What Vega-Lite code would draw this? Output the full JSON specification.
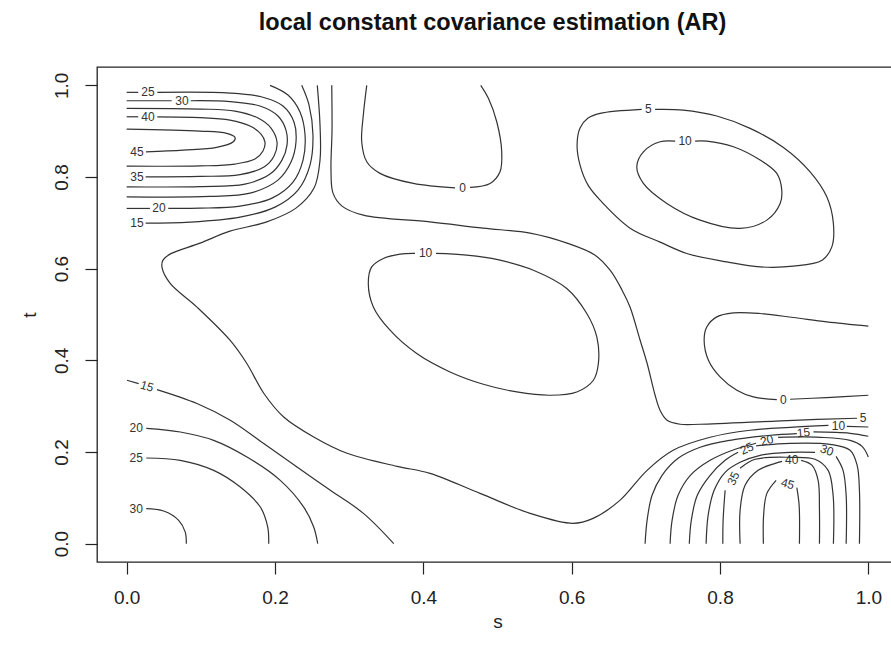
{
"$schema": "https://vega.github.io/schema/vega-lite/v6.json",
"width": 801, "height": 495,
"autosize": {"type": "none"},
"padding": {"left": 97, "top": 67, "right": 0, "bottom": 93},
"config": {"view": {"stroke": "#222", "strokeWidth": 1.3}, "font": "Liberation Sans"},
"title": {"text": "local constant covariance estimation (AR)", "fontSize": 23.5, "fontWeight": "bold", "color": "#111", "frame": "group", "anchor": "middle", "baseline": "alphabetic", "offset": 14, "dx": -5},
"datasets": {
"lines": [
{"g":"0a1","i":0,"s":0.3237,"t":1},{"g":"0a1","i":1,"s":0.3191,"t":0.9352},{"g":"0a1","i":2,"s":0.3169,"t":0.8769},{"g":"0a1","i":3,"s":0.3237,"t":0.8332},{"g":"0a1","i":4,"s":0.3416,"t":0.8079},{"g":"0a1","i":5,"s":0.3865,"t":0.7860},{"g":"0a1","i":6,"s":0.4428,"t":0.7764},
{"g":"0a2","i":0,"s":0.4630,"t":0.7773},{"g":"0a2","i":1,"s":0.4900,"t":0.7860},{"g":"0a2","i":2,"s":0.5034,"t":0.8114},{"g":"0a2","i":3,"s":0.5057,"t":0.8550},{"g":"0a2","i":4,"s":0.4990,"t":0.9205},{"g":"0a2","i":5,"s":0.4877,"t":0.9716},{"g":"0a2","i":6,"s":0.4774,"t":1},
{"g":"0b1","i":0,"s":1,"t":0.4745},{"g":"0b1","i":1,"s":0.9440,"t":0.4838},{"g":"0b1","i":2,"s":0.8990,"t":0.4934},{"g":"0b1","i":3,"s":0.8541,"t":0.5022},{"g":"0b1","i":4,"s":0.8181,"t":0.5035},{"g":"0b1","i":5,"s":0.7957,"t":0.4948},{"g":"0b1","i":6,"s":0.7822,"t":0.4729},{"g":"0b1","i":7,"s":0.7786,"t":0.4439},{"g":"0b1","i":8,"s":0.7844,"t":0.4002},{"g":"0b1","i":9,"s":0.8001,"t":0.3638},{"g":"0b1","i":10,"s":0.8227,"t":0.3347},{"g":"0b1","i":11,"s":0.8450,"t":0.3201},{"g":"0b1","i":12,"s":0.8766,"t":0.3144},
{"g":"0b2","i":0,"s":0.8945,"t":0.3151},{"g":"0b2","i":1,"s":0.9440,"t":0.3188},{"g":"0b2","i":2,"s":1,"t":0.3238},
{"g":"5L","i":0,"s":0.7125,"t":0.9476},{"g":"5L","i":1,"s":0.7506,"t":0.9461},{"g":"5L","i":2,"s":0.7957,"t":0.9330},{"g":"5L","i":3,"s":0.8406,"t":0.9061},{"g":"5L","i":4,"s":0.8855,"t":0.8646},{"g":"5L","i":5,"s":0.9215,"t":0.8114},{"g":"5L","i":6,"s":0.9440,"t":0.7568},{"g":"5L","i":7,"s":0.9529,"t":0.6987},{"g":"5L","i":8,"s":0.9508,"t":0.6476},{"g":"5L","i":9,"s":0.9377,"t":0.6186},{"g":"5L","i":10,"s":0.8990,"t":0.6055},{"g":"5L","i":11,"s":0.8541,"t":0.6039},{"g":"5L","i":12,"s":0.8092,"t":0.6148},{"g":"5L","i":13,"s":0.7552,"t":0.6332},{"g":"5L","i":14,"s":0.7192,"t":0.6579},{"g":"5L","i":15,"s":0.6788,"t":0.6884},{"g":"5L","i":16,"s":0.6383,"t":0.7496},{"g":"5L","i":17,"s":0.6221,"t":0.7823},{"g":"5L","i":18,"s":0.6113,"t":0.8260},{"g":"5L","i":19,"s":0.6073,"t":0.8697},{"g":"5L","i":20,"s":0.6113,"t":0.9068},{"g":"5L","i":21,"s":0.6221,"t":0.9286},{"g":"5L","i":22,"s":0.6383,"t":0.9389},{"g":"5L","i":23,"s":0.6945,"t":0.9476},
{"g":"10U","i":0,"s":0.7664,"t":0.8784},{"g":"10U","i":1,"s":0.7822,"t":0.8784},{"g":"10U","i":2,"s":0.8181,"t":0.8659},{"g":"10U","i":3,"s":0.8541,"t":0.8369},{"g":"10U","i":4,"s":0.8766,"t":0.8079},{"g":"10U","i":5,"s":0.8833,"t":0.7714},{"g":"10U","i":6,"s":0.8811,"t":0.7424},{"g":"10U","i":7,"s":0.8631,"t":0.7059},{"g":"10U","i":8,"s":0.8271,"t":0.6878},{"g":"10U","i":9,"s":0.7732,"t":0.7059},{"g":"10U","i":10,"s":0.7283,"t":0.7424},{"g":"10U","i":11,"s":0.6967,"t":0.7860},{"g":"10U","i":12,"s":0.6878,"t":0.8223},{"g":"10U","i":13,"s":0.6967,"t":0.8550},{"g":"10U","i":14,"s":0.7192,"t":0.8769},{"g":"10U","i":15,"s":0.7395,"t":0.8784},
{"g":"10M","i":0,"s":0.4171,"t":0.6332},{"g":"10M","i":1,"s":0.4585,"t":0.6295},{"g":"10M","i":2,"s":0.5034,"t":0.6186},{"g":"10M","i":3,"s":0.5484,"t":0.5967},{"g":"10M","i":4,"s":0.5934,"t":0.5568},{"g":"10M","i":5,"s":0.6204,"t":0.5022},{"g":"10M","i":6,"s":0.6339,"t":0.4511},{"g":"10M","i":7,"s":0.6360,"t":0.3930},{"g":"10M","i":8,"s":0.6293,"t":0.3566},{"g":"10M","i":9,"s":0.6069,"t":0.3310},{"g":"10M","i":10,"s":0.5709,"t":0.3238},{"g":"10M","i":11,"s":0.5260,"t":0.3310},{"g":"10M","i":12,"s":0.4809,"t":0.3478},{"g":"10M","i":13,"s":0.4360,"t":0.3747},{"g":"10M","i":14,"s":0.3911,"t":0.4148},{"g":"10M","i":15,"s":0.3551,"t":0.4657},{"g":"10M","i":16,"s":0.3326,"t":0.5166},{"g":"10M","i":17,"s":0.3258,"t":0.5677},{"g":"10M","i":18,"s":0.3304,"t":0.6039},{"g":"10M","i":19,"s":0.3461,"t":0.6223},{"g":"10M","i":20,"s":0.3686,"t":0.6317},{"g":"10M","i":21,"s":0.3888,"t":0.6332},
{"g":"5C","i":0,"s":0.2765,"t":1},{"g":"5C","i":1,"s":0.2769,"t":0.9024},{"g":"5C","i":2,"s":0.2755,"t":0.8151},{"g":"5C","i":3,"s":0.2782,"t":0.7648},{"g":"5C","i":4,"s":0.2904,"t":0.7365},{"g":"5C","i":5,"s":0.3191,"t":0.7168},{"g":"5C","i":6,"s":0.4090,"t":0.7022},{"g":"5C","i":7,"s":0.4805,"t":0.6884},{"g":"5C","i":8,"s":0.5439,"t":0.6775},{"g":"5C","i":9,"s":0.5938,"t":0.6557},{"g":"5C","i":10,"s":0.6316,"t":0.6295},{"g":"5C","i":11,"s":0.6518,"t":0.5967},{"g":"5C","i":12,"s":0.6680,"t":0.5531},{"g":"5C","i":13,"s":0.6788,"t":0.5159},{"g":"5C","i":14,"s":0.6923,"t":0.4439},{"g":"5C","i":15,"s":0.7017,"t":0.3937},{"g":"5C","i":16,"s":0.7125,"t":0.3238},{"g":"5C","i":17,"s":0.7192,"t":0.2910},{"g":"5C","i":18,"s":0.7287,"t":0.2692},{"g":"5C","i":19,"s":0.7462,"t":0.2605},{"g":"5C","i":20,"s":0.7732,"t":0.2605},{"g":"5C","i":21,"s":0.8986,"t":0.2692},{"g":"5C","i":22,"s":0.9849,"t":0.2736},
{"g":"10S1","i":0,"s":0.2570,"t":1},{"g":"10S1","i":1,"s":0.2607,"t":0.9133},{"g":"10S1","i":2,"s":0.2607,"t":0.8369},{"g":"10S1","i":3,"s":0.2526,"t":0.7758},{"g":"10S1","i":4,"s":0.2283,"t":0.7321},{"g":"10S1","i":5,"s":0.1879,"t":0.7015},{"g":"10S1","i":6,"s":0.1393,"t":0.6819},{"g":"10S1","i":7,"s":0.0989,"t":0.6557},{"g":"10S1","i":8,"s":0.0584,"t":0.6317},{"g":"10S1","i":9,"s":0.0490,"t":0.6186},{"g":"10S1","i":10,"s":0.0476,"t":0.6033},{"g":"10S1","i":11,"s":0.0584,"t":0.5683},{"g":"10S1","i":12,"s":0.0944,"t":0.5166},{"g":"10S1","i":13,"s":0.1393,"t":0.4439},{"g":"10S1","i":14,"s":0.1618,"t":0.3937},{"g":"10S1","i":15,"s":0.1848,"t":0.3282},{"g":"10S1","i":16,"s":0.2117,"t":0.2764},{"g":"10S1","i":17,"s":0.2522,"t":0.2328},{"g":"10S1","i":18,"s":0.2971,"t":0.1972},{"g":"10S1","i":19,"s":0.3645,"t":0.1688},{"g":"10S1","i":20,"s":0.4090,"t":0.1535},{"g":"10S1","i":21,"s":0.4765,"t":0.1098},{"g":"10S1","i":22,"s":0.5439,"t":0.0662},{"g":"10S1","i":23,"s":0.6019,"t":0.0443},{"g":"10S1","i":24,"s":0.6289,"t":0.0552},{"g":"10S1","i":25,"s":0.6650,"t":0.0945},{"g":"10S1","i":26,"s":0.7017,"t":0.1600},{"g":"10S1","i":27,"s":0.7368,"t":0.2037},{"g":"10S1","i":28,"s":0.7867,"t":0.2321},{"g":"10S1","i":29,"s":0.8406,"t":0.2474},{"g":"10S1","i":30,"s":0.8945,"t":0.2539},{"g":"10S1","i":31,"s":0.9462,"t":0.2583},
{"g":"10S2","i":0,"s":0.9710,"t":0.2561},{"g":"10S2","i":1,"s":1,"t":0.2546},
{"g":"45T","i":0,"s":0,"t":0.9046},{"g":"45T","i":1,"s":0.0989,"t":0.9002},{"g":"45T","i":2,"s":0.1349,"t":0.8952},{"g":"45T","i":3,"s":0.1461,"t":0.8865},{"g":"45T","i":4,"s":0.1438,"t":0.8769},{"g":"45T","i":5,"s":0.1214,"t":0.8646},{"g":"45T","i":6,"s":0.0763,"t":0.8587},{"g":"45T","i":7,"s":0.0260,"t":0.8550},
{"g":"40a","i":0,"s":0,"t":0.9314},{"g":"40a","i":1,"s":0.0156,"t":0.9314},
{"g":"40b","i":0,"s":0.0413,"t":0.9314},{"g":"40b","i":1,"s":0.0989,"t":0.9297},{"g":"40b","i":2,"s":0.1393,"t":0.9242},{"g":"40b","i":3,"s":0.1663,"t":0.9111},{"g":"40b","i":4,"s":0.1811,"t":0.8937},{"g":"40b","i":5,"s":0.1865,"t":0.8762},{"g":"40b","i":6,"s":0.1838,"t":0.8566},{"g":"40b","i":7,"s":0.1730,"t":0.8391},{"g":"40b","i":8,"s":0.1461,"t":0.8282},{"g":"40b","i":9,"s":0.0989,"t":0.8242},{"g":"40b","i":10,"s":0,"t":0.8238},
{"g":"35T","i":0,"s":0,"t":0.9498},{"g":"35T","i":1,"s":0.0989,"t":0.9483},{"g":"35T","i":2,"s":0.1461,"t":0.9439},{"g":"35T","i":3,"s":0.1771,"t":0.9286},{"g":"35T","i":4,"s":0.1946,"t":0.9068},{"g":"35T","i":5,"s":0.2027,"t":0.8762},{"g":"35T","i":6,"s":0.1987,"t":0.8456},{"g":"35T","i":7,"s":0.1852,"t":0.8216},{"g":"35T","i":8,"s":0.1528,"t":0.8052},{"g":"35T","i":9,"s":0.0989,"t":0.8013},{"g":"35T","i":10,"s":0.0256,"t":0.8004},
{"g":"30a","i":0,"s":0,"t":0.9664},{"g":"30a","i":1,"s":0.0607,"t":0.9664},
{"g":"30b","i":0,"s":0.0863,"t":0.9664},{"g":"30b","i":1,"s":0.1393,"t":0.9646},{"g":"30b","i":2,"s":0.1798,"t":0.9548},{"g":"30b","i":3,"s":0.2040,"t":0.9330},{"g":"30b","i":4,"s":0.2148,"t":0.9024},{"g":"30b","i":5,"s":0.2162,"t":0.8697},{"g":"30b","i":6,"s":0.2094,"t":0.8369},{"g":"30b","i":7,"s":0.1933,"t":0.8063},{"g":"30b","i":8,"s":0.1595,"t":0.7845},{"g":"30b","i":9,"s":0.0989,"t":0.7790},{"g":"30b","i":10,"s":0,"t":0.7786},
{"g":"25a","i":0,"s":0,"t":0.9847},{"g":"25a","i":1,"s":0.0156,"t":0.9847},
{"g":"25b","i":0,"s":0.0413,"t":0.9847},{"g":"25b","i":1,"s":0.1393,"t":0.9832},{"g":"25b","i":2,"s":0.1825,"t":0.9745},{"g":"25b","i":3,"s":0.2108,"t":0.9548},{"g":"25b","i":4,"s":0.2256,"t":0.9199},{"g":"25b","i":5,"s":0.2283,"t":0.8762},{"g":"25b","i":6,"s":0.2216,"t":0.8325},{"g":"25b","i":7,"s":0.2040,"t":0.7932},{"g":"25b","i":8,"s":0.1663,"t":0.7648},{"g":"25b","i":9,"s":0.1123,"t":0.7576},{"g":"25b","i":10,"s":0,"t":0.7568},
{"g":"20a","i":0,"s":0.1933,"t":1},{"g":"20a","i":1,"s":0.2175,"t":0.9788},{"g":"20a","i":2,"s":0.2337,"t":0.9417},{"g":"20a","i":3,"s":0.2405,"t":0.8915},{"g":"20a","i":4,"s":0.2378,"t":0.8369},{"g":"20a","i":5,"s":0.2243,"t":0.7889},{"g":"20a","i":6,"s":0.1960,"t":0.7539},{"g":"20a","i":7,"s":0.1528,"t":0.7365},{"g":"20a","i":8,"s":0.0989,"t":0.7319},{"g":"20a","i":9,"s":0.0561,"t":0.7314},
{"g":"20b","i":0,"s":0.0314,"t":0.7314},{"g":"20b","i":1,"s":0,"t":0.7314},
{"g":"15T","i":0,"s":0.2360,"t":1},{"g":"15T","i":1,"s":0.2459,"t":0.9570},{"g":"15T","i":2,"s":0.2512,"t":0.8915},{"g":"15T","i":3,"s":0.2472,"t":0.8260},{"g":"15T","i":4,"s":0.2310,"t":0.7714},{"g":"15T","i":5,"s":0.2000,"t":0.7343},{"g":"15T","i":6,"s":0.1528,"t":0.7124},{"g":"15T","i":7,"s":0.0854,"t":0.7015},{"g":"15T","i":8,"s":0.0256,"t":0.6993},
{"g":"15La","i":0,"s":0.0004,"t":0.3566},{"g":"15La","i":1,"s":0.0162,"t":0.3493},
{"g":"15Lb","i":0,"s":0.0409,"t":0.3362},{"g":"15Lb","i":1,"s":0.0948,"t":0.3057},{"g":"15Lb","i":2,"s":0.1397,"t":0.2692},{"g":"15Lb","i":3,"s":0.1848,"t":0.2183},{"g":"15Lb","i":4,"s":0.2297,"t":0.1672},{"g":"15Lb","i":5,"s":0.2746,"t":0.1164},{"g":"15Lb","i":6,"s":0.3196,"t":0.0655},{"g":"15Lb","i":7,"s":0.3601,"t":0},
{"g":"20L","i":0,"s":0.0264,"t":0.2517},{"g":"20L","i":1,"s":0.0723,"t":0.2437},{"g":"20L","i":2,"s":0.1173,"t":0.2255},{"g":"20L","i":3,"s":0.1622,"t":0.1891},{"g":"20L","i":4,"s":0.2071,"t":0.1382},{"g":"20L","i":5,"s":0.2387,"t":0.0799},{"g":"20L","i":6,"s":0.2522,"t":0.0362},{"g":"20L","i":7,"s":0.2576,"t":0},
{"g":"25L","i":0,"s":0.0264,"t":0.1869},{"g":"25L","i":1,"s":0.0723,"t":0.1819},{"g":"25L","i":2,"s":0.1173,"t":0.1600},{"g":"25L","i":3,"s":0.1532,"t":0.1236},{"g":"25L","i":4,"s":0.1802,"t":0.0799},{"g":"25L","i":5,"s":0.1902,"t":0.0362},{"g":"25L","i":6,"s":0.1915,"t":0},
{"g":"30L","i":0,"s":0.0264,"t":0.0764},{"g":"30L","i":1,"s":0.0499,"t":0.0712},{"g":"30L","i":2,"s":0.0701,"t":0.0509},{"g":"30L","i":3,"s":0.0790,"t":0.0253},{"g":"30L","i":4,"s":0.0804,"t":0},
{"g":"15Ra","i":0,"s":0.6990,"t":0},{"g":"15Ra","i":1,"s":0.7017,"t":0.0509},{"g":"15Ra","i":2,"s":0.7084,"t":0.1055},{"g":"15Ra","i":3,"s":0.7219,"t":0.1491},{"g":"15Ra","i":4,"s":0.7435,"t":0.1862},{"g":"15Ra","i":5,"s":0.7732,"t":0.2103},{"g":"15Ra","i":6,"s":0.8136,"t":0.2255},{"g":"15Ra","i":7,"s":0.8676,"t":0.2365},{"g":"15Ra","i":8,"s":0.9036,"t":0.2402},
{"g":"15Rb","i":0,"s":0.9260,"t":0.2437},{"g":"15Rb","i":1,"s":0.9754,"t":0.2408},{"g":"15Rb","i":2,"s":1,"t":0.2343},
{"g":"20Ra","i":0,"s":0.7327,"t":0},{"g":"20Ra","i":1,"s":0.7354,"t":0.0509},{"g":"20Ra","i":2,"s":0.7435,"t":0.1055},{"g":"20Ra","i":3,"s":0.7600,"t":0.1491},{"g":"20Ra","i":4,"s":0.7867,"t":0.1819},{"g":"20Ra","i":5,"s":0.8204,"t":0.2059},{"g":"20Ra","i":6,"s":0.8487,"t":0.2190},
{"g":"20Rb","i":0,"s":0.8783,"t":0.2321},{"g":"20Rb","i":1,"s":0.9350,"t":0.2321},{"g":"20Rb","i":2,"s":0.9754,"t":0.2255},{"g":"20Rb","i":3,"s":0.9916,"t":0.2124},{"g":"20Rb","i":4,"s":1,"t":0.1891},
{"g":"25Ra","i":0,"s":0.7586,"t":0},{"g":"25Ra","i":1,"s":0.7613,"t":0.0509},{"g":"25Ra","i":2,"s":0.7694,"t":0.1055},{"g":"25Ra","i":3,"s":0.7867,"t":0.1491},{"g":"25Ra","i":4,"s":0.8069,"t":0.1819},{"g":"25Ra","i":5,"s":0.8244,"t":0.1993},
{"g":"25Rb","i":0,"s":0.8487,"t":0.2135},{"g":"25Rb","i":1,"s":0.8945,"t":0.2190},{"g":"25Rb","i":2,"s":0.9485,"t":0.2168},{"g":"25Rb","i":3,"s":0.9754,"t":0.2037},{"g":"25Rb","i":4,"s":0.9849,"t":0.1710},{"g":"25Rb","i":5,"s":0.9880,"t":0.1164},{"g":"25Rb","i":6,"s":0.9880,"t":0},
{"g":"30Ra","i":0,"s":0.7813,"t":0},{"g":"30Ra","i":1,"s":0.7840,"t":0.0618},{"g":"30Ra","i":2,"s":0.7921,"t":0.1164},{"g":"30Ra","i":3,"s":0.8069,"t":0.1557},{"g":"30Ra","i":4,"s":0.8271,"t":0.1775},{"g":"30Ra","i":5,"s":0.8541,"t":0.1928},{"g":"30Ra","i":6,"s":0.8945,"t":0.1993},{"g":"30Ra","i":7,"s":0.9282,"t":0.1993},
{"g":"30Rb","i":0,"s":0.9565,"t":0.1906},{"g":"30Rb","i":1,"s":0.9659,"t":0.1600},{"g":"30Rb","i":2,"s":0.9701,"t":0.1055},{"g":"30Rb","i":3,"s":0.9701,"t":0},
{"g":"35Ra","i":0,"s":0.8038,"t":0},{"g":"35Ra","i":1,"s":0.8042,"t":0.0509},{"g":"35Ra","i":2,"s":0.8069,"t":0.1164},
{"g":"35Rb","i":0,"s":0.8271,"t":0.1644},{"g":"35Rb","i":1,"s":0.8473,"t":0.1841},{"g":"35Rb","i":2,"s":0.8945,"t":0.1884},{"g":"35Rb","i":3,"s":0.9282,"t":0.1841},{"g":"35Rb","i":4,"s":0.9458,"t":0.1600},{"g":"35Rb","i":5,"s":0.9525,"t":0.1055},{"g":"35Rb","i":6,"s":0.9529,"t":0},
{"g":"40Ra","i":0,"s":0.8271,"t":0},{"g":"40Ra","i":1,"s":0.8271,"t":0.0727},{"g":"40Ra","i":2,"s":0.8338,"t":0.1273},{"g":"40Ra","i":3,"s":0.8514,"t":0.1600},{"g":"40Ra","i":4,"s":0.8743,"t":0.1753},{"g":"40Ra","i":5,"s":0.8837,"t":0.1797},
{"g":"40Rb","i":0,"s":0.9094,"t":0.1819},{"g":"40Rb","i":1,"s":0.9242,"t":0.1710},{"g":"40Rb","i":2,"s":0.9323,"t":0.1382},{"g":"40Rb","i":3,"s":0.9341,"t":0.0727},{"g":"40Rb","i":4,"s":0.9341,"t":0},
{"g":"45Ra","i":0,"s":0.8585,"t":0},{"g":"45Ra","i":1,"s":0.8588,"t":0.0618},{"g":"45Ra","i":2,"s":0.8631,"t":0.1092},{"g":"45Ra","i":3,"s":0.8757,"t":0.1382},
{"g":"45Rb","i":0,"s":0.9036,"t":0.1223},{"g":"45Rb","i":1,"s":0.9067,"t":0.0836},{"g":"45Rb","i":2,"s":0.9071,"t":0}
],
"labels": [
{"id":"tl25","lab":"25","s":0.0287,"t":0.9847},
{"id":"tl30","lab":"30","s":0.0746,"t":0.9664},
{"id":"tl40","lab":"40","s":0.0287,"t":0.9314},
{"id":"tl45","lab":"45","s":0.0139,"t":0.8550},
{"id":"tl35","lab":"35","s":0.0139,"t":0.8004},
{"id":"tl20","lab":"20","s":0.0436,"t":0.7314},
{"id":"tl15","lab":"15","s":0.0139,"t":0.6993},
{"id":"z1","lab":"0","s":0.4529,"t":0.7758},
{"id":"f1","lab":"5","s":0.7034,"t":0.9476},
{"id":"t1","lab":"10","s":0.7529,"t":0.8784},
{"id":"t2","lab":"10","s":0.4030,"t":0.6332},
{"id":"z2","lab":"0","s":0.8855,"t":0.3144},
{"id":"f2","lab":"5","s":0.9930,"t":0.2742},
{"id":"t3","lab":"10","s":0.9597,"t":0.2568},
{"id":"br15","lab":"15","s":0.9125,"t":0.2424},
{"id":"br20","lab":"20","s":0.8631,"t":0.2255},
{"id":"br25","lab":"25","s":0.8362,"t":0.2074},
{"id":"br30","lab":"30","s":0.9440,"t":0.2037},
{"id":"br35","lab":"35","s":0.8181,"t":0.1419},
{"id":"br40","lab":"40","s":0.8968,"t":0.1819},
{"id":"br45","lab":"45","s":0.8912,"t":0.1306},
{"id":"bl15","lab":"15","s":0.0274,"t":0.3434},
{"id":"bl20","lab":"20","s":0.0129,"t":0.2524},
{"id":"bl25","lab":"25","s":0.0129,"t":0.1869},
{"id":"bl30","lab":"30","s":0.0129,"t":0.0764}
]
},
"layer": [
{
"data": {"name": "lines"},
"mark": {"type": "line", "color": "#333", "strokeWidth": 1.2, "interpolate": "catmull-rom"},
"encoding": {
"x": {"field": "s", "type": "quantitative", "scale": {"domain": [-0.04, 1.04], "nice": false, "zero": false},
"axis": {"values": [0, 0.2, 0.4, 0.6, 0.8, 1], "format": ".1f", "domain": false, "grid": false, "tickSize": 12, "tickColor": "#222", "tickWidth": 1.2, "labelFontSize": 19, "labelColor": "#222", "labelPadding": 14, "labelFlush": false, "title": "s", "titleFontSize": 19, "titleFontWeight": "normal", "titleColor": "#222", "titlePadding": 5}},
"y": {"field": "t", "type": "quantitative", "scale": {"domain": [-0.04, 1.04], "nice": false, "zero": false},
"axis": {"values": [0, 0.2, 0.4, 0.6, 0.8, 1], "format": ".1f", "domain": false, "grid": false, "tickSize": 12, "tickColor": "#222", "tickWidth": 1.2, "labelFontSize": 19, "labelColor": "#222", "labelPadding": 14, "labelAngle": -90, "labelAlign": "center", "labelBaseline": "bottom", "labelFlush": false, "title": "t", "titleFontSize": 19, "titleFontWeight": "normal", "titleColor": "#222", "titlePadding": 13}},
"detail": {"field": "g"},
"order": {"field": "i", "type": "quantitative"}
}
},
{
"data": {"name": "labels"},
"mark": {"type": "text", "fontSize": 12, "color": "#333", "align": "center", "baseline": "middle"},
"encoding": {
"x": {"field": "s", "type": "quantitative"},
"y": {"field": "t", "type": "quantitative"},
"text": {"field": "lab"},
"angle": {"condition": [
{"test": "datum.id === 'br15'", "value": 355},
{"test": "datum.id === 'br20'", "value": 345},
{"test": "datum.id === 'br25'", "value": 335},
{"test": "datum.id === 'br30'", "value": 20},
{"test": "datum.id === 'br35'", "value": 295},
{"test": "datum.id === 'br45'", "value": 15},
{"test": "datum.id === 'bl15'", "value": 17}
], "value": 0}
}
}
]
}
